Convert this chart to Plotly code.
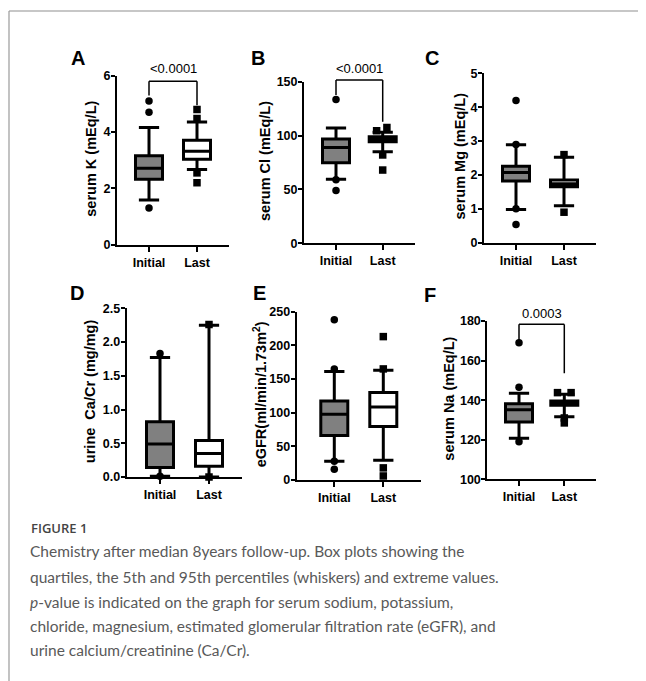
import plotly.graph_objects as go

# The page body has an 8px margin; lay out in screen pixels and shift by it.
OX, OY = 8, 8
W, H = 646 - OX, 681 - OY
categories = ["Initial", "Last"]


def px_x(v):
    return (v - OX) / W


def px_y(v):
    return 1 - (v - OY) / H


# ---- Panel A: serum K ----
A_q1 = [2.32, 3.03]; A_med = [2.71, 3.32]; A_q3 = [3.16, 3.71]
A_lo = [1.59, 2.67]; A_hi = [4.16, 4.36]
A_out_init = [5.1, 4.7, 1.3]
A_out_last = [4.8, 4.48, 2.55, 2.2]
A_ticks = [0, 2, 4, 6]

# ---- Panel B: serum Cl ----
B_q1 = [74.8, 94.2]; B_med = [89.0, 97.0]; B_q3 = [96.8, 98.9]
B_lo = [59.4, 85.0]; B_hi = [107.0, 103.0]
B_out_init = [133.5, 59.0, 49.0]
B_out_last = [107.5, 104.5, 82.0, 68.0]
B_ticks = [0, 50, 100, 150]

# ---- Panel C: serum Mg ----
C_q1 = [1.82, 1.65]; C_med = [2.07, 1.74]; C_q3 = [2.26, 1.85]
C_lo = [0.98, 1.09]; C_hi = [2.89, 2.52]
C_out_init = [4.2, 2.9, 1.0, 0.54]
C_out_last = [2.6, 0.9]
C_ticks = [0, 1, 2, 3, 4, 5]

# ---- Panel D: urine Ca/Cr ----
D_q1 = [0.14, 0.16]; D_med = [0.49, 0.35]; D_q3 = [0.82, 0.54]
D_lo = [0.01, 0.0]; D_hi = [1.77, 2.25]
D_out_init = [1.83, 0.01]
D_out_last = [2.26, 0.0]
D_ticks = [0.0, 0.5, 1.0, 1.5, 2.0, 2.5]

# ---- Panel E: eGFR ----
E_q1 = [66.0, 79.5]; E_med = [97.5, 108.5]; E_q3 = [117.5, 130.0]
E_lo = [28.0, 29.5]; E_hi = [161.0, 163.0]
E_out_init = [238.0, 165.0, 28.0, 16.0]
E_out_last = [213.0, 165.0, 18.0, 6.0]
E_ticks = [0, 50, 100, 150, 200, 250]

# ---- Panel F: serum Na ----
F_q1 = [128.9, 137.4]; F_med = [135.1, 138.5]; F_q3 = [138.2, 139.6]
F_lo = [120.7, 131.6]; F_hi = [143.5, 143.0]
F_out_init = [169.0, 146.5, 119.0]
F_out_last = [143.8, 143.8, 131.0, 128.5]
F_ticks = [100, 120, 140, 160, 180]

# p-values and bracket heights (data units): [bar, left foot, right foot, text]
p_labels = {"A": "&lt;0.0001", "B": "&lt;0.0001", "F": "0.0003"}
A_bracket = [5.8, 5.3, 4.95, 6.27]
B_bracket = [151.5, 137.6, 112.8, 162.0]
F_bracket = [178.3, 170.4, 153.6, 184.0]

titles = {
    "A": "serum K (mEq/L)",
    "B": "serum Cl (mEq/L)",
    "C": "serum Mg (mEq/L)",
    "D": "urine  Ca/Cr (mg/mg)",
    "E": "eGFR(ml/min/1.73m<sup>2</sup>)",
    "F": "serum Na (mEq/L)",
}

caption_lines = [
    "Chemistry after median 8years follow-up. Box plots showing the",
    "quartiles, the 5th and 95th percentiles (whiskers) and extreme values.",
    "<i>p</i>-value is indicated on the graph for serum sodium, potassium,",
    "chloride, magnesium, estimated glomerular filtration rate (eGFR), and",
    "urine calcium/creatinine (Ca/Cr).",
]

# layout geometry in screen pixels
panels = [
    dict(k="A", q1=A_q1, med=A_med, q3=A_q3, lo=A_lo, hi=A_hi, oi=A_out_init, ol=A_out_last,
         ticks=A_ticks, fmt="%d", yr=[0, 6], br=A_bracket,
         ax=117, c0=149, c1=197, top=75.7, bot=244.7, tx=91, lx=78, ly=58),
    dict(k="B", q1=B_q1, med=B_med, q3=B_q3, lo=B_lo, hi=B_hi, oi=B_out_init, ol=B_out_last,
         ticks=B_ticks, fmt="%d", yr=[0, 150], br=B_bracket,
         ax=304, c0=336, c1=382.7, top=81.7, bot=243.3, tx=265, lx=258, ly=58,
         jit_last=[0.09, -0.13, 0, 0]),
    dict(k="C", q1=C_q1, med=C_med, q3=C_q3, lo=C_lo, hi=C_hi, oi=C_out_init, ol=C_out_last,
         ticks=C_ticks, fmt="%d", yr=[0, 5], br=None,
         ax=484, c0=516, c1=564, top=73.3, bot=242.7, tx=459, lx=432, ly=58),
    dict(k="D", q1=D_q1, med=D_med, q3=D_q3, lo=D_lo, hi=D_hi, oi=D_out_init, ol=D_out_last,
         ticks=D_ticks, fmt="%.1f", yr=[0, 2.5], br=None,
         ax=126.7, c0=160, c1=209, top=308.3, bot=477, tx=90, lx=77, ly=293),
    dict(k="E", q1=E_q1, med=E_med, q3=E_q3, lo=E_lo, hi=E_hi, oi=E_out_init, ol=E_out_last,
         ticks=E_ticks, fmt="%d", yr=[0, 250], br=None,
         ax=296.7, c0=334.3, c1=383.3, top=311.7, bot=480, tx=260, lx=259, ly=293,
         jit_last=[0, 0, 0, 0]),
    dict(k="F", q1=F_q1, med=F_med, q3=F_q3, lo=F_lo, hi=F_hi, oi=F_out_init, ol=F_out_last,
         ticks=F_ticks, fmt="%d", yr=[100, 180], br=F_bracket,
         ax=487.3, c0=519, c1=564.3, top=321, bot=479.3, tx=449, lx=430, ly=295,
         jit_last=[-0.15, 0.15, 0, 0]),
]

TICKFONT = dict(family="Liberation Sans, Arial", size=12.5, color="black", weight="bold")
fig = go.Figure()
shapes, annotations = [], []

for i, p in enumerate(panels, start=1):
    xa = "x" if i == 1 else f"x{i}"
    ya = "y" if i == 1 else f"y{i}"
    s = p["c1"] - p["c0"]
    xmin = (p["ax"] - p["c0"]) / s
    xmax = 1 - xmin
    right_px = p["c0"] + xmax * s
    fig.update_layout(**{
        ("xaxis" if i == 1 else f"xaxis{i}"): dict(
            domain=[px_x(p["ax"]), px_x(right_px)], anchor=ya, range=[xmin, xmax],
            tickvals=[0, 1], ticktext=categories, showline=True, linecolor="black",
            linewidth=2, ticks="outside", ticklen=5, tickwidth=2, tickcolor="black",
            showgrid=False, zeroline=False, tickfont=TICKFONT, fixedrange=True,
            automargin=False),
        ("yaxis" if i == 1 else f"yaxis{i}"): dict(
            domain=[px_y(p["bot"]), px_y(p["top"])], anchor=xa, range=p["yr"],
            tickvals=p["ticks"], ticktext=[p["fmt"] % t for t in p["ticks"]],
            showline=True, linecolor="black", linewidth=2, ticks="outside", ticklen=4,
            tickwidth=2, tickcolor="black", showgrid=False, zeroline=False,
            tickfont=TICKFONT, fixedrange=True, automargin=False,
            ticklabelstandoff=-2),
    })
    box_w = 27.0 / s
    for j, fill in enumerate(["#808080", "#ffffff"]):
        fig.add_trace(go.Box(
            x=[j], q1=[p["q1"][j]], median=[p["med"][j]], q3=[p["q3"][j]],
            lowerfence=[p["lo"][j]], upperfence=[p["hi"][j]],
            fillcolor=fill, line=dict(color="black", width=3), width=box_w,
            whiskerwidth=0.75, boxpoints=False, orientation="v",
            xaxis=xa, yaxis=ya, showlegend=False, hoverinfo="skip"))
    fig.add_trace(go.Scatter(
        x=[0] * len(p["oi"]), y=p["oi"], mode="markers",
        marker=dict(symbol="circle", size=7.5, color="black"),
        xaxis=xa, yaxis=ya, showlegend=False, cliponaxis=False))
    jit = p.get("jit_last", [0] * len(p["ol"]))
    fig.add_trace(go.Scatter(
        x=[1 + d for d in jit], y=p["ol"], mode="markers",
        marker=dict(symbol="square", size=7.5, color="black"),
        xaxis=xa, yaxis=ya, showlegend=False, cliponaxis=False))

    if p["br"] is not None:
        y0, y1 = p["yr"]
        fy = lambda v: (v - y0) / (y1 - y0)          # data -> axis-domain fraction
        fx = lambda v: (v - xmin) / (xmax - xmin)
        bar, lf, rf, ty = p["br"]
        lw = dict(color="black", width=1.5)
        xd, yd = f"{xa} domain", f"{ya} domain"
        shapes += [
            dict(type="line", xref=xd, yref=yd, x0=fx(0), x1=fx(1), y0=fy(bar), y1=fy(bar), line=lw),
            dict(type="line", xref=xd, yref=yd, x0=fx(0), x1=fx(0), y0=fy(bar), y1=fy(lf), line=lw),
            dict(type="line", xref=xd, yref=yd, x0=fx(1), x1=fx(1), y0=fy(bar), y1=fy(rf), line=lw),
        ]
        annotations.append(dict(
            xref=xd, yref=yd, x=fx(0.5), y=fy(ty), text=p_labels[p["k"]], showarrow=False,
            font=dict(family="Liberation Sans, Arial", size=13, color="black"),
            xanchor="center", yanchor="middle"))

    # y-axis title
    annotations.append(dict(
        xref="paper", yref="paper", x=px_x(p["tx"]),
        y=px_y((p["top"] + p["bot"]) / 2 - 1.5), text=titles[p["k"]], textangle=-90,
        showarrow=False, xanchor="center", yanchor="middle",
        font=dict(family="Liberation Sans, Arial", size=14.5, color="black", weight="bold")))
    # panel letter
    annotations.append(dict(
        xref="paper", yref="paper", x=px_x(p["lx"]), y=px_y(p["ly"]), text=p["k"],
        showarrow=False, xanchor="center", yanchor="middle",
        font=dict(family="Liberation Sans, Arial", size=20, color="black", weight="bold")))

# figure frame
shapes += [
    dict(type="line", xref="paper", yref="paper", x0=px_x(9), x1=1, y0=px_y(11),
         y1=px_y(11), line=dict(color="#b4b4b4", width=1.5)),
    dict(type="line", xref="paper", yref="paper", x0=px_x(9), x1=px_x(9), y0=px_y(11),
         y1=0, line=dict(color="#9a9a9a", width=1.2)),
]

# caption
annotations.append(dict(
    xref="paper", yref="paper", x=px_x(29), y=px_y(528), text="FIGURE 1",
    showarrow=False, xanchor="left", yanchor="middle",
    font=dict(family="Open Sans", size=13, color="#444444", weight=600)))
cap_y = [551, 577, 602, 626, 650]
for line, yy in zip(caption_lines, cap_y):
    annotations.append(dict(
        xref="paper", yref="paper", x=px_x(28), y=px_y(yy), text=line,
        showarrow=False, xanchor="left", yanchor="middle",
        font=dict(family="Lato", size=15.5, color="#595959")))

fig.update_layout(
    width=W, height=H, margin=dict(l=0, r=0, t=0, b=0, autoexpand=False),
    paper_bgcolor="white", plot_bgcolor="white",
    shapes=shapes, annotations=annotations, boxmode="overlay",
)

fig.write_html("out.html")
